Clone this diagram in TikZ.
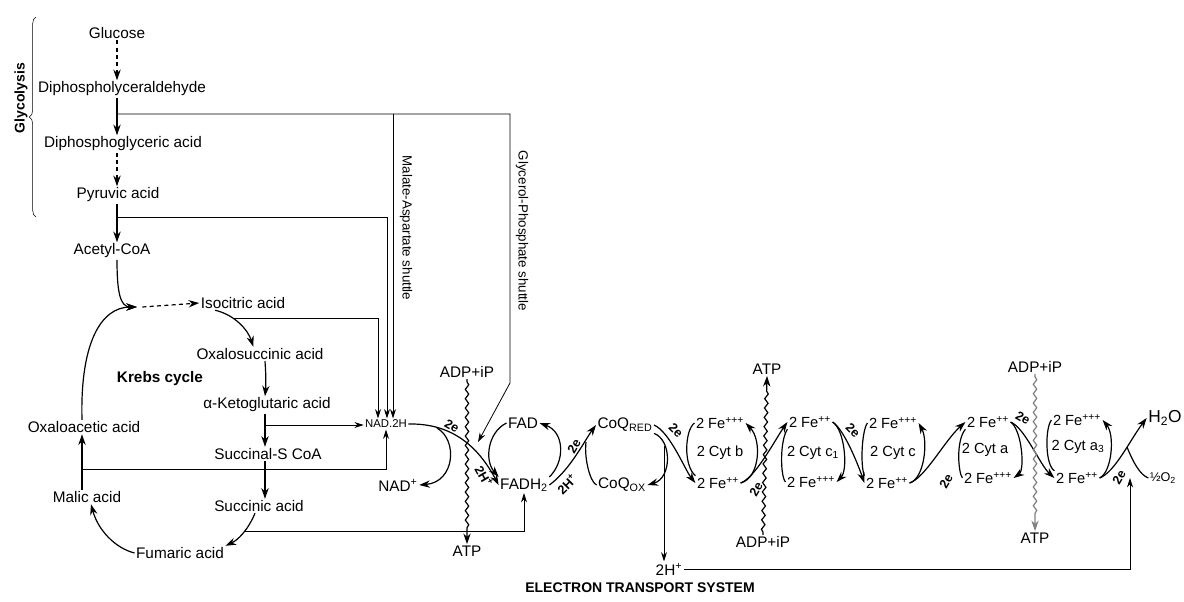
\documentclass[tikz,border=0pt]{standalone}
\usepackage{fontspec}
\setmainfont{Liberation Sans}
\usepackage{tikz}
\usetikzlibrary{arrows.meta,decorations.pathmorphing,decorations.pathreplacing}
\newcommand{\feII}{2 Fe\textsuperscript{++}}
\newcommand{\feIII}{2 Fe\textsuperscript{+++}}

\begin{document}
\begin{tikzpicture}[x=0.75pt, y=-0.75pt, every node/.style={font=\fontsize{11.5}{13}\selectfont, inner sep=1pt},
  arr/.style={-{Stealth[length=8pt,width=5.5pt]}, line width=0.9pt},
  dasharr/.style={arr, dash pattern=on 3pt off 2.5pt},
  link/.style={line width=0.6pt},
  linkarr/.style={link, -{Stealth[length=7pt,width=4.5pt]}},
  wavy/.style={line width=0.9pt, decorate, decoration={snake, amplitude=1.3pt, segment length=7pt, pre length=2pt, post length=10pt}},
  elbl/.style={font=\fontsize{9.5}{11}\selectfont\bfseries, inner sep=0pt},
  hd/.style={font=\fontsize{10.5}{12}\selectfont\bfseries},
  shut/.style={font=\fontsize{10}{12}\selectfont, rotate=-90},
  fe/.style={font=\fontsize{11}{12}\selectfont}]
\useasboundingbox (0,0) rectangle (1184,601);
% glycolysis
\node (glu) at (117,33) {Glucose};
\node (dpgald) at (122,89) {Diphospholyceraldehyde};
\node (dpgacid) at (123,144) {Diphosphoglyceric acid};
\node (pyr) at (118,195) {Pyruvic acid};
\node (acoa) at (112,251) {Acetyl-CoA};
\node[hd, rotate=90] (glyc) at (21,98) {Glycolysis};
\draw[thin, decorate, decoration={brace, amplitude=5pt}] (36,217) -- (36,17);
% krebs cycle
\node (isoc) at (243,303) {Isocitric acid};
\node (oxs) at (260,354) {Oxalosuccinic acid};
\node[font=\fontsize{11.5}{13}\selectfont\bfseries] (krebs) at (160,379) {Krebs cycle};
\node (akg) at (267,405) {α-Ketoglutaric acid};
\node (sca) at (268,454) {Succinal-S CoA};
\node (succ) at (259,506) {Succinic acid};
\node (fum) at (180,553) {Fumaric acid};
\node (mal) at (87,497) {Malic acid};
\node (oaa) at (84,427) {Oxaloacetic acid};
\node[font=\fontsize{8.5}{10}\selectfont] (nad) at (386,424) {NAD.2H};
% shuttles
\node[shut] (masl) at (406,228) {Malate-Aspartate shuttle};
\node[shut] (gpsl) at (522,231) {Glycerol-Phosphate shuttle};
% electron transport
\node (nadp) at (398,485) {NAD\textsuperscript{+}};
\node (adpa) at (467,372) {ADP+iP};
\node (atpa) at (467,551) {ATP};
\node (fad) at (523,423) {FAD};
\node (fadh) at (524,485) {FADH\textsubscript{2}};
\node (coqr) at (625,425) {CoQ\textsubscript{RED}};
\node (coqo) at (622,485) {CoQ\textsubscript{OX}};
\node (hp) at (669,569) {2H\textsuperscript{+}};
\node[fe] (bt) at (720,423) {\feIII};
\node[fe] (bc) at (720,453) {2 Cyt b};
\node[fe] (bb) at (718,483) {\feII};
\node (atpb) at (767,369) {ATP};
\node (adpb) at (763,542) {ADP+iP};
\node[fe] (c1t) at (810,422) {\feII};
\node[fe] (c1c) at (813,453) {2 Cyt c\textsubscript{1}};
\node[fe] (c1b) at (811,482) {\feIII};
\node[fe] (ct) at (893,423) {\feIII};
\node[fe] (cc) at (893,453) {2 Cyt c};
\node[fe] (cb) at (887,483) {\feII};
\node[fe] (cyat) at (988,422) {\feII};
\node[fe] (cyac) at (985,450) {2 Cyt a};
\node[fe] (cyab) at (988,478) {\feIII};
\node (adpc) at (1035,367) {ADP+iP};
\node (atpc) at (1035,538) {ATP};
\node[fe] (a3t) at (1077,420) {\feIII};
\node[fe] (a3c) at (1078,447) {2 Cyt a\textsubscript{3}};
\node[fe] (a3b) at (1077,478) {\feII};
\node[font=\fontsize{13}{15}\selectfont] (water) at (1165,418) {H\textsubscript{2}O};
\node[font=\fontsize{9.5}{11}\selectfont] (oxy) at (1163,478) {½O\textsubscript{2}};
\node[hd] (ets) at (640,588) {ELECTRON TRANSPORT SYSTEM};

% glycolysis arrows
\coordinate (gsp) at (117,0);
\draw[dasharr] (glu.south -| gsp) -- (dpgald.north -| gsp);
\draw[arr] (dpgald.south -| gsp) -- (dpgacid.north -| gsp);
\draw[dasharr] (dpgacid.south -| gsp) -- (pyr.north -| gsp);
\draw[arr] (pyr.south -| gsp) -- (acoa.north -| gsp);
% shuttle lines into NAD.2H and FADH2
\coordinate (g1) at (117,114);
\coordinate (mas) at (393,114);
\coordinate (gps) at (510,114);
\coordinate (gpb) at (510,383);
\coordinate (gpe) at (478,442);
\draw[linkarr] (g1) -- (gps) -- (gpb) -- (gpe);
\draw[linkarr] (mas) -- (mas |- nad.north);
\coordinate (p1) at (117,217);
\coordinate (pyc) at (387,217);
\draw[linkarr] (p1) -- (pyc) -- (pyc |- nad.north);
\coordinate (ib) at (233,318);
\coordinate (ic) at (378,318);
\draw[linkarr] (ib) -- (ic) -- (ic |- nad.north);
% krebs arrows
\coordinate (mrg) at (137,307);
\coordinate (ks) at (265,0);
\coordinate (kl) at (82,0);
\draw[arr] (acoa.south -| gsp) .. controls (117,292) and (120,307) .. (mrg);
\draw[arr] (oaa.north -| kl) .. controls (80,345) and (100,307) .. (mrg);
\draw[dasharr] ([xshift=4pt]mrg) -- (isoc.west);
\draw[arr] ([xshift=12pt]isoc.south west) .. controls (235,315) and (248,330) .. ([xshift=-5pt]oxs.north);
\draw[arr] (oxs.south -| ks) .. controls (266,375) and (266,385) .. (akg.north -| ks);
\draw[arr] (akg.south -| ks) -- (sca.north -| ks);
\coordinate (kb) at (265,425);
\draw[linkarr] (kb) -- (kb -| nad.west);
\draw[arr] (sca.south -| ks) -- (succ.north -| ks);
\draw[arr] ([xshift=-3pt]succ.south) .. controls (248,530) and (238,540) .. (fum.north east);
\coordinate (sb) at (245,531);
\draw[linkarr] (sb) -- (sb -| fadh) -- (fadh.south);
\draw[arr] (fum.west) .. controls (115,548) and (98,530) .. ([xshift=3pt]mal.south);
\draw[arr] (mal.north -| kl) -- (oaa.south -| kl);
\coordinate (mb) at (82,469);
\draw[linkarr] (mb) -- (mb -| nad) -- (nad.south);
% electron transport system
\draw[arr] (nad.east) .. controls (455,423) and (480,450) .. (fadh.west);
\coordinate (nj) at (437,428);
\draw[arr] (nj) .. controls (458,440) and (455,482) .. (nadp.east);
\node[elbl, rotate=-30] (e1) at (452,426) {2e};
\node[elbl, rotate=-60] (h1) at (484,476) {2H\textsuperscript{+}};
\draw[wavy, arr] (adpa.south) -- (atpa.north);
\draw[arr] (fad.west) .. controls (488,432) and (484,460) .. (fadh.north west);
\draw[arr] (fadh.east) .. controls (570,470) and (585,440) .. (coqr.west);
\draw[arr] (fadh.north east) .. controls (565,462) and (565,432) .. (fad.east);
\coordinate (cq) at (586,442);
\draw[line width=0.9pt] (coqo.west) .. controls (590,482) and (584,458) .. (cq);
\node[elbl, rotate=60] (e2) at (574,446) {2e};
\node[elbl, rotate=45] (h2) at (567,484) {2H\textsuperscript{+}};
\draw[arr] (coqr.east) .. controls (670,432) and (685,470) .. (bb.west);
\node[elbl, rotate=-45] (e3) at (676,430) {2e};
\draw[arr] (coqr.south east) .. controls (672,440) and (672,478) .. (coqo.east);
\coordinate (qv) at (664,446);
\draw[linkarr] (qv) -- (qv |- hp.north);
\coordinate (oj) at (1130,478);
\draw[linkarr] (hp.east) -- (hp.east -| oj) -- (oj);
% cyt b
\draw[line width=0.9pt] (bt.west) .. controls (685,430) and (683,465) .. (bb.north west);
\draw[arr] (bb.east) .. controls (760,478) and (762,440) .. (bt.east);
\draw[arr] (bb.east) .. controls (755,478) and (775,440) .. (c1t.west);
\node[elbl, rotate=60] (e4) at (756,489) {2e};
\draw[wavy, arr] (adpb.north) -- (atpb.south);
% cyt c1
\draw[line width=0.9pt] (c1b.west) .. controls (780,475) and (780,440) .. (c1t.south west);
\draw[arr] (c1t.east) .. controls (845,430) and (848,470) .. (c1b.east);
\draw[arr] (c1t.east) .. controls (845,430) and (860,470) .. (cb.west);
\node[elbl, rotate=-45] (e5) at (853,430) {2e};
% cyt c
\draw[line width=0.9pt] (ct.west) .. controls (862,430) and (860,465) .. (cb.north west);
\draw[arr] (cb.east) .. controls (925,478) and (928,440) .. (ct.east);
\draw[arr] (cb.east) .. controls (925,478) and (945,440) .. (cyat.west);
\node[elbl, rotate=60] (e6) at (946,481) {2e};
% cyt a
\draw[line width=0.9pt] (cyab.west) .. controls (958,472) and (956,440) .. (cyat.south west);
\draw[arr] (cyat.east) .. controls (1022,430) and (1025,470) .. (cyab.east);
\draw[arr] (cyat.east) .. controls (1025,428) and (1040,465) .. (a3b.west);
\node[elbl, rotate=-30] (e7) at (1023,418) {2e};
\draw[wavy, arr, gray] (adpc.south) -- (atpc.north);
% cyt a3
\draw[line width=0.9pt] (a3t.west) .. controls (1045,428) and (1045,465) .. (a3b.north west);
\draw[arr] (a3b.east) .. controls (1112,472) and (1115,435) .. (a3t.east);
\draw[arr] (a3b.east) .. controls (1115,472) and (1130,440) .. (water.west);
\node[elbl, rotate=60] (e8) at (1119,477) {2e};
\coordinate (ow) at (1127,447);
\draw[line width=0.9pt] (oxy.west) .. controls (1140,475) and (1133,462) .. (ow);
\end{tikzpicture}
\end{document}
